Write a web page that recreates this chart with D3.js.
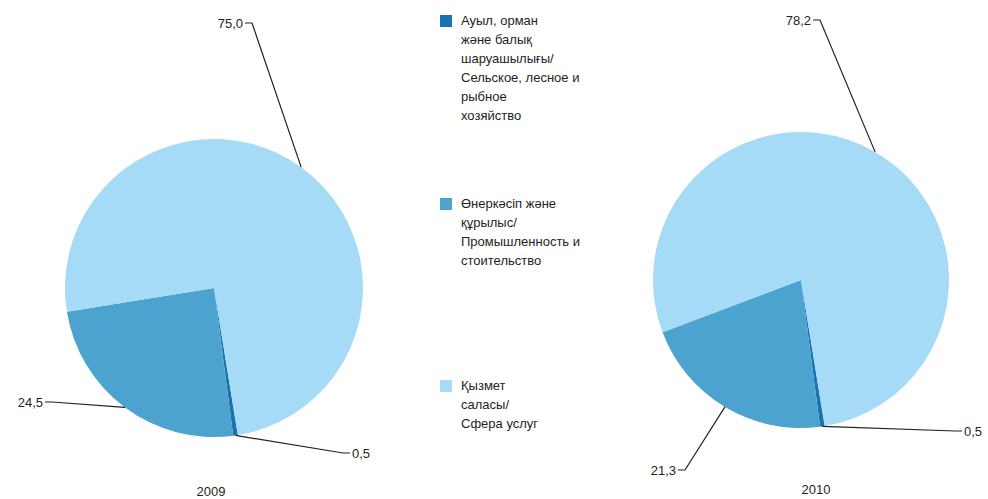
<!DOCTYPE html>
<html>
<head>
    <title></title>
    <script src="https://d3js.org/d3.v7.min.js"></script>
    <style>
        body { margin: 0; background: #fff; }
        text { font-family: "Liberation Sans", Arial, sans-serif; font-size: 13px; fill: #231f20; }
    </style>
</head>
<body>
    <svg id="chart" width="988" height="499"></svg>

    <script>
    // sectors, in legend order
    let sectors = [ "agri", "industry", "services" ];
    let legendLines = [
        [ "Ауыл, орман", "және балық", "шаруашылығы/", "Сельское, лесное и", "рыбное", "хозяйство" ],
        [ "Өнеркәсіп және", "құрылыс/", "Промышленность и", "стоительство" ],
        [ "Қызмет", "саласы/", "Сфера услуг" ]
    ];
    let years = [ "2009", "2010" ];
    let values2009 = [ 0.5, 24.5, 75.0 ];
    let values2010 = [ 0.5, 21.3, 78.2 ];
    let valueLabels2009 = [ "0,5", "24,5", "75,0" ];
    let valueLabels2010 = [ "0,5", "21,3", "78,2" ];

    let colors = d3.scaleOrdinal().domain( sectors ).range( [ "#1a72b0", "#4ca3d0", "#a5dbf7" ] );

    let svg = d3.select( "#chart" );

    // one pie per year: center, radius, leader elbows, title position
    let pies = [
        { values: values2009, labels: valueLabels2009, year: years[0], cx: 214, cy: 288, r: 149,
          elbows: [ [343, 453, 1], [52, 402, -1], [252, 23, -1] ], title: [211, 496] },
        { values: values2010, labels: valueLabels2010, year: years[1], cx: 801, cy: 280, r: 148,
          elbows: [ [955, 431, 1], [685, 470, -1], [820, 20, -1] ], title: [816, 494] }
    ];

    let start = 170.8 * Math.PI / 180;
    let pie = d3.pie().sort( null ).startAngle( start ).endAngle( start + 2 * Math.PI );

    pies.forEach( function( p ) {
        let arc = d3.arc().innerRadius( 0 ).outerRadius( p.r );
        let g = svg.append( "g" ).attr( "transform", "translate(" + p.cx + "," + p.cy + ")" );
        let arcs = pie( p.values );

        g.selectAll( "path" ).data( arcs ).enter().append( "path" )
            .attr( "d", arc )
            .attr( "fill", (d, i) => colors( sectors[i] ) );

        // leader lines + value labels
        arcs.forEach( function( d, i ) {
            let mid = ( d.startAngle + d.endAngle ) / 2;
            let x0 = p.cx + p.r * Math.sin( mid ), y0 = p.cy - p.r * Math.cos( mid );
            let e = p.elbows[i];
            let tail = e[0] + e[2] * 7;
            svg.append( "polyline" )
                .attr( "points", [ [x0, y0], [e[0], e[1]], [tail, e[1]] ].join( " " ) )
                .attr( "fill", "none" ).attr( "stroke", "#231f20" ).attr( "stroke-width", 1.2 );
            svg.append( "text" )
                .attr( "x", tail + e[2] * 2 ).attr( "y", e[1] + 4.5 )
                .attr( "text-anchor", e[2] > 0 ? "start" : "end" )
                .text( p.labels[i] );
        } );

        svg.append( "text" ).attr( "x", p.title[0] ).attr( "y", p.title[1] )
            .attr( "text-anchor", "middle" ).text( p.year );
    } );

    // legend
    let legendTop = [ 25, 208, 390 ];
    let lg = svg.selectAll( ".leg" ).data( sectors ).enter().append( "g" ).attr( "class", "leg" );
    lg.append( "rect" )
        .attr( "x", 440 ).attr( "y", (d, i) => legendTop[i] - 10 )
        .attr( "width", 12 ).attr( "height", 12 )
        .attr( "fill", d => colors( d ) );
    lg.append( "text" )
        .attr( "x", 461 ).attr( "y", (d, i) => legendTop[i] )
        .selectAll( "tspan" ).data( (d, i) => legendLines[i] ).enter().append( "tspan" )
        .attr( "x", 461 ).attr( "dy", (d, j) => j === 0 ? 0 : 19 )
        .text( d => d );
    </script>
</body></html>
